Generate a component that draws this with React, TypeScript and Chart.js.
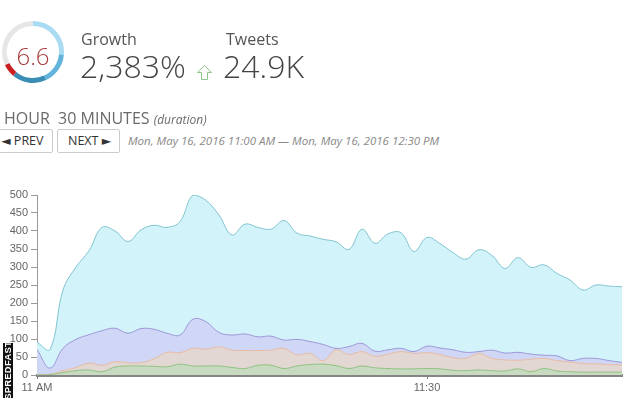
import React, { useEffect, useRef } from "react";
import { Chart, registerables } from "chart.js";
Chart.register(...registerables);

// minutes after 11:00 AM
const minutes = Array.from({ length: 46 }, (_, i) => i);
const totalTweets = [91, 71, 236, 300, 345, 410, 400, 371, 403, 416, 410, 426, 500, 485, 444, 389, 419, 410, 405, 429, 394, 386, 377, 370, 349, 405, 366, 392, 395, 343, 382, 365, 340, 322, 348, 332, 296, 326, 299, 306, 282, 264, 236, 250, 247, 245];
const purpleSeries = [71, 19, 74, 99, 112, 123, 130, 116, 129, 127, 116, 111, 155, 148, 118, 111, 114, 106, 108, 97, 99, 93, 85, 74, 79, 88, 66, 70, 74, 65, 80, 75, 70, 63, 65, 69, 61, 63, 58, 55, 53, 40, 46, 46, 40, 35];
const tanSeries = [0, 2, 12, 21, 33, 27, 37, 34, 34, 45, 63, 62, 74, 72, 78, 69, 68, 68, 69, 74, 56, 60, 40, 70, 57, 65, 52, 58, 65, 60, 62, 57, 48, 46, 60, 46, 42, 41, 44, 46, 40, 36, 32, 31, 29, 28];
const greenSeries = [0, 1, 7, 12, 14, 9, 22, 25, 25, 24, 23, 30, 25, 25, 25, 21, 18, 27, 27, 18, 25, 29, 30, 26, 18, 25, 20, 18, 17, 17, 18, 17, 13, 12, 14, 12, 11, 17, 9, 18, 11, 9, 8, 8, 8, 8];

const xTickValues = [0, 30];
const xTickLabels = ["11 AM", "11:30"];

const gaugeSegments = [95, 60, 65, 25, 115];
const gaugeColors = ["#a9dcf2", "#62b4dc", "#3b8db3", "#cc1f1f", "#e6e6e6"];

const FONT = "'Open Sans', 'DejaVu Sans', sans-serif";

function MainChart() {
  const ref = useRef<HTMLCanvasElement | null>(null);
  useEffect(() => {
    if (!ref.current) return;
    const mk = (vals: number[]) => minutes.map((m, i) => ({ x: m, y: vals[i] }));
    const common = { fill: "origin", pointRadius: 0, borderWidth: 1, tension: 0.4 };
    const chart = new Chart(ref.current, {
      type: "line",
      data: {
        datasets: [
          { ...common, label: "Green", data: mk(greenSeries), backgroundColor: "#c8dbc1", borderColor: "#90c283" },
          { ...common, label: "Tan", data: mk(tanSeries), backgroundColor: "#e2d7d2", borderColor: "#e9bba3" },
          { ...common, label: "Purple", data: mk(purpleSeries), backgroundColor: "#d0d7f6", borderColor: "#9d98d8" },
          { ...common, label: "Total", data: mk(totalTweets), backgroundColor: "#d3f3fb", borderColor: "#7fc4cf" },
        ] as any,
      },
      options: {
        animation: false,
        responsive: false,
        layout: { padding: { top: 10, right: 2, left: 0, bottom: 0 } },
        plugins: { legend: { display: false }, tooltip: { enabled: false } },
        scales: {
          x: {
            type: "linear",
            min: 0,
            max: 45,
            afterFit: (s: any) => { s.height = 25; },
            afterBuildTicks: (s: any) => { s.ticks = xTickValues.map((v) => ({ value: v })); },
            ticks: {
              autoSkip: false,
              maxRotation: 0,
              padding: 2,
              color: "#666",
              font: { family: "'Liberation Sans', Arial, sans-serif", size: 11 },
              callback: (v: any) => xTickLabels[xTickValues.indexOf(Number(v))] ?? "",
            },
            grid: { drawOnChartArea: false, drawTicks: true, tickLength: 4, color: "#777" },
            border: { display: true, color: "#858585", width: 3 },
          },
          y: {
            min: 0,
            max: 500,
            afterFit: (s: any) => { s.width = 37; },
            ticks: {
              stepSize: 50,
              padding: 3,
              color: "#666",
              font: { family: "'Liberation Sans', Arial, sans-serif", size: 11 },
            },
            grid: { drawOnChartArea: false, drawTicks: true, tickLength: 6, color: "#999" },
            border: { display: true, color: "#999", width: 1 },
          },
        },
      } as any,
    });
    return () => chart.destroy();
  }, []);
  return <canvas ref={ref} width={624} height={215} style={{ position: "absolute", left: 0, top: 185, width: 624, height: 215 }} />;
}

function Gauge() {
  const ref = useRef<HTMLCanvasElement | null>(null);
  useEffect(() => {
    if (!ref.current) return;
    const chart = new Chart(ref.current, {
      type: "doughnut",
      data: { labels: gaugeSegments.map((_, i) => String(i)), datasets: [{ data: gaugeSegments, backgroundColor: gaugeColors, borderWidth: 0 }] },
      options: {
        animation: false,
        responsive: false,
        cutout: "84%",
        plugins: { legend: { display: false }, tooltip: { enabled: false } },
      } as any,
    });
    return () => chart.destroy();
  }, []);
  return <canvas ref={ref} width={62} height={62} style={{ position: "absolute", left: 2, top: 21, width: 62, height: 62 }} />;
}

export default function App() {
  const txt = (extra: React.CSSProperties): React.CSSProperties => ({
    position: "absolute", fontFamily: FONT, lineHeight: 1, whiteSpace: "nowrap", ...extra,
  });
  return (
    <div style={{ position: "fixed", left: 0, top: 0, width: 624, height: 400, background: "#fff", overflow: "hidden" }}>
      <Gauge />
      <div style={txt({ left: 0, width: 66, top: 44, textAlign: "center", fontSize: 24, fontWeight: 300, color: "#a83c3c" })}>6.6</div>
      <div style={txt({ left: 81, top: 31, fontSize: 16, color: "#555" })}>Growth</div>
      <div style={txt({ left: 80, top: 50, fontSize: 32, fontWeight: 300, color: "#444" })}>2,383%</div>
      <svg style={{ position: "absolute", left: 0, top: 0 }} width={240} height={100}>
        <path d="M204.5 65.5 L211.5 72.5 L207.5 72.5 L207.5 79.5 L201.5 79.5 L201.5 72.5 L197.5 72.5 Z" fill="none" stroke="#8cc68c" strokeWidth={1} />
      </svg>
      <div style={txt({ left: 226, top: 31, fontSize: 16, color: "#555" })}>Tweets</div>
      <div style={txt({ left: 223, top: 50, fontSize: 32, fontWeight: 300, color: "#444" })}>24.9K</div>

      <div style={txt({ left: 4, top: 110, fontSize: 16, color: "#6a6a6a" })}>
        HOUR&nbsp;&nbsp;30 MINUTES <span style={{ fontSize: 12, fontStyle: "italic" }}>(duration)</span>
      </div>
      <div style={{ position: "absolute", left: -4, top: 129, width: 55, height: 22, border: "1px solid #ccc", borderRadius: 2, boxSizing: "content-box" }} />
      <div style={txt({ left: 1, top: 135, fontSize: 12.5, color: "#333" })}>◄ PREV</div>
      <div style={{ position: "absolute", left: 57, top: 129, width: 61, height: 22, border: "1px solid #ccc", borderRadius: 2 }} />
      <div style={txt({ left: 68, top: 135, fontSize: 12.5, color: "#333" })}>NEXT ►</div>
      <div style={txt({ left: 128, top: 135, fontSize: 11.5, fontStyle: "italic", color: "#888" })}>
        Mon, May 16, 2016 11:00 AM — Mon, May 16, 2016 12:30 PM
      </div>

      <MainChart />

      <div style={{ position: "absolute", left: 3, top: 343, width: 10, height: 55, background: "#111", display: "flex", alignItems: "center", justifyContent: "center" }}>
        <div style={{ writingMode: "vertical-rl", transform: "rotate(180deg)", color: "#fff", fontFamily: "'Liberation Sans', Arial, sans-serif", fontWeight: "bold", fontSize: 9.5, lineHeight: 1, letterSpacing: 0.2 }}>SPREDFAST</div>
      </div>
    </div>
  );
}
